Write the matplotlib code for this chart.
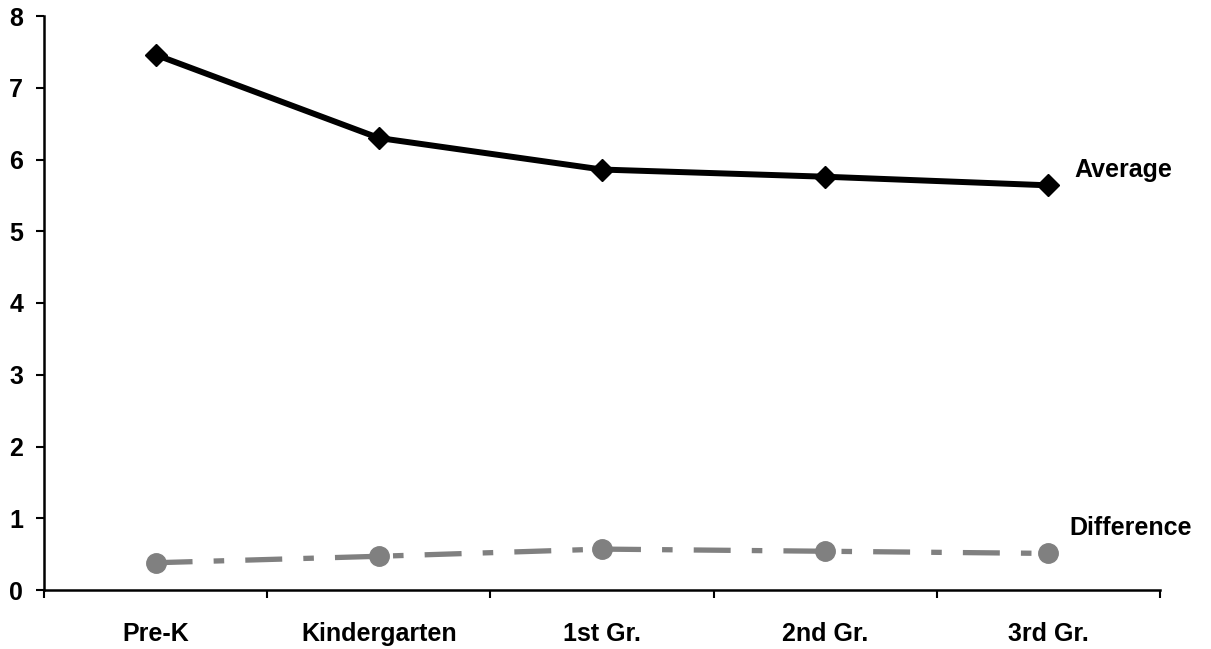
import matplotlib.pyplot as plt
import numpy as np

grades = ["Pre-K", "Kindergarten", "1st Gr.", "2nd Gr.", "3rd Gr."]
average = [7.46, 6.30, 5.86, 5.76, 5.64]
difference = [0.38, 0.47, 0.57, 0.54, 0.51]

plt.rcParams['font.family'] = ['Liberation Sans', 'DejaVu Sans']
plt.rcParams['font.weight'] = 'bold'

fig = plt.figure(figsize=(12.11, 6.49), dpi=100)
ax = fig.add_axes([44 / 1211, 1 - 590 / 649, (1160 - 44) / 1211, (590 - 16) / 649])

x = np.arange(len(grades))

ax.plot(x, average, color='black', lw=4.3, marker='D', markersize=11,
        solid_joinstyle='miter', clip_on=False, zorder=3)
ax.plot(x, difference, color='#808080', lw=3.8, marker='o', markersize=14,
        dashes=(7, 4, 2, 4), dash_capstyle='butt', clip_on=False, zorder=3)

ax.text(4.115, 5.85, "Average", fontsize=18, fontweight='bold', va='center', ha='left')
ax.text(4.095, 0.86, "Difference", fontsize=18, fontweight='bold', va='center', ha='left')

ax.set_xlim(-0.5, 4.5)
ax.set_ylim(0, 8)

# boundaries between categories get the tick marks, labels sit in the middle
ax.set_xticks(np.arange(-0.5, 5, 1))
ax.set_xticklabels([])
ax.set_xticks(x, minor=True)
ax.set_xticklabels(grades, minor=True, fontsize=18, fontweight='bold')
ax.tick_params(axis='x', which='minor', length=0, pad=23)
ax.tick_params(axis='x', which='major', direction='out', length=6, width=1.5)

ax.set_yticks(range(0, 9))
ax.tick_params(axis='y', direction='out', length=6, width=1.5, pad=9, labelsize=18)
for lbl in ax.get_yticklabels():
    lbl.set_fontweight('bold')

for side in ['top', 'right']:
    ax.spines[side].set_visible(False)
for side in ['left', 'bottom']:
    ax.spines[side].set_linewidth(1.8)

fig.savefig("out.png", dpi=100)
